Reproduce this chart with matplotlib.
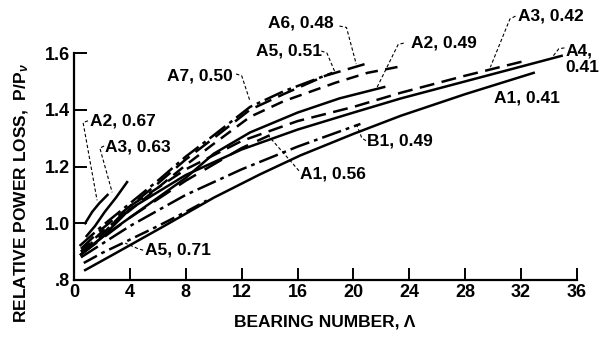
import numpy as np
import matplotlib
matplotlib.use("Agg")
import matplotlib.pyplot as plt

plt.rcParams['font.family'] = ['Liberation Sans', 'DejaVu Sans']
plt.rcParams['font.weight'] = 'bold'
plt.rcParams['mathtext.fontset'] = 'custom'
plt.rcParams['mathtext.rm'] = 'Liberation Sans:bold'
plt.rcParams['mathtext.it'] = 'Liberation Sans:italic:bold'

# curves: bearing number vs relative power loss
a7_050_x = [0.4, 2, 4, 6, 8, 10, 12.6, 15, 18.5]
a7_050_y = [0.92, 0.99, 1.07, 1.15, 1.235, 1.31, 1.41, 1.465, 1.53]
a6_048_x = [0.5, 2, 4, 6, 8, 10, 12.6, 15, 18, 21.1]
a6_048_y = [0.91, 0.98, 1.06, 1.14, 1.225, 1.30, 1.40, 1.455, 1.52, 1.565]
a5_051_x = [0.5, 2, 4, 6, 8, 10, 12.6, 15, 18.7, 21, 23.6]
a5_051_y = [0.90, 0.97, 1.045, 1.125, 1.205, 1.28, 1.375, 1.43, 1.495, 1.53, 1.555]
a2_049_x = [0.5, 2, 4, 6, 8, 10, 12.6, 16, 19, 22.2]
a2_049_y = [0.89, 0.95, 1.02, 1.09, 1.16, 1.245, 1.32, 1.39, 1.44, 1.48]

a3_042_x = [0.5, 2, 4, 8, 12, 16, 20, 23.4, 28, 32.1]
a3_042_y = [0.90, 0.96, 1.06, 1.19, 1.29, 1.36, 1.41, 1.46, 1.52, 1.57]
a4_041_x = [0.5, 2, 4, 8, 12, 16, 20, 23.4, 28, 34.9]
a4_041_y = [0.89, 0.95, 1.05, 1.17, 1.26, 1.33, 1.39, 1.44, 1.50, 1.59]
a1_041_x = [0.8, 3, 6.3, 10, 13.3, 16.2, 20, 23.4, 28, 32.9]
a1_041_y = [0.835, 0.895, 0.986, 1.09, 1.172, 1.239, 1.315, 1.379, 1.455, 1.53]
b1_049_x = [0.5, 4, 8, 12, 16, 20.5]
b1_049_y = [0.88, 0.99, 1.10, 1.19, 1.27, 1.35]
a1_056_x = [0.5, 4, 8, 12, 14]
a1_056_y = [0.89, 1.02, 1.15, 1.265, 1.31]
a5_071_x = [0.7, 2, 3.7, 6, 8, 9.5]
a5_071_y = [0.86, 0.895, 0.935, 0.99, 1.04, 1.08]

a2_067_x = [0.8, 1.3, 1.8, 2.4]
a2_067_y = [1.0, 1.04, 1.07, 1.10]
a3_063_x = [0.9, 1.5, 2.2, 3.0, 3.8]
a3_063_y = [0.955, 0.99, 1.04, 1.09, 1.145]

x_ticks = [0, 4, 8, 12, 16, 20, 24, 28, 32, 36]
y_ticks = [0.8, 1.0, 1.2, 1.4, 1.6]
y_tick_labels = ['.8', '1.0', '1.2', '1.4', '1.6']

fig = plt.figure(figsize=(6, 3.4), dpi=100)
ax = fig.add_axes([74 / 600, 60 / 340, 503 / 600, 227 / 340])

lw = 1.8
ax.plot(a7_050_x, a7_050_y, color='k', lw=lw, ls=(0, (8, 2, 1.5, 2)))
ax.plot(a6_048_x, a6_048_y, color='k', lw=lw, ls=(0, (7, 3)))
ax.plot(a5_051_x, a5_051_y, color='k', lw=lw, ls=(0, (5, 3)))
ax.plot(a2_049_x, a2_049_y, color='k', lw=lw)
ax.plot(a3_042_x, a3_042_y, color='k', lw=lw, ls=(0, (6, 3)))
ax.plot(a4_041_x, a4_041_y, color='k', lw=lw)
ax.plot(a1_041_x, a1_041_y, color='k', lw=lw)
ax.plot(b1_049_x, b1_049_y, color='k', lw=lw, ls=(0, (8, 2, 1.5, 2)))
ax.plot(a1_056_x, a1_056_y, color='k', lw=lw, ls=(0, (8, 4)))
ax.plot(a5_071_x, a5_071_y, color='k', lw=lw, ls=(0, (6, 2, 1.5, 2)))
ax.plot(a2_067_x, a2_067_y, color='k', lw=lw)
ax.plot(a3_063_x, a3_063_y, color='k', lw=lw)

# labels with dashed leaders: (text, text x, text y, leader points)
labels = [
    ('A6, 0.48', 13.85, 1.705, [(19.0, 1.695), (19.5, 1.69), (20.2, 1.561)]),
    ('A5, 0.51', 13.0, 1.607, [(17.7, 1.607), (18.1, 1.6), (18.7, 1.53)]),
    ('A7, 0.50', 6.67, 1.519, [(11.6, 1.526), (12.0, 1.52), (12.6, 1.43)]),
    ('A2, 0.49', 24.1, 1.635, [(23.6, 1.635), (23.2, 1.63), (21.7, 1.48)]),
    ('A3, 0.42', 31.8, 1.73, [(31.6, 1.73), (31.2, 1.72), (29.8, 1.55)]),
    ('A4,\n0.41', 35.2, 1.578, [(35.1, 1.618), (34.7, 1.615), (34.3, 1.59)]),
    ('A1, 0.41', 30.06, 1.442, None),
    ('B1, 0.49', 21.0, 1.291, [(20.9, 1.291), (20.6, 1.3), (20.2, 1.351)]),
    ('A1, 0.56', 16.2, 1.175, [(16.1, 1.185), (13.9, 1.309)]),
    ('A2, 0.67', 1.15, 1.361, [(1.0, 1.361), (0.65, 1.355), (1.65, 1.081)]),
    ('A3, 0.63', 2.22, 1.267, [(2.15, 1.272), (1.85, 1.265), (2.73, 1.109)]),
    ('A5, 0.71', 5.09, 0.905, [(4.95, 0.905), (4.6, 0.91), (3.66, 0.93)]),
]
for txt, tx, ty, pts in labels:
    ax.text(tx, ty, txt, fontsize=12.5, fontweight='bold', ha='left', va='center',
            clip_on=False, linespacing=1.15)
    if pts is not None:
        lx = [p[0] for p in pts]
        ly = [p[1] for p in pts]
        ax.plot(lx, ly, color='k', lw=0.8, ls=(0, (3, 2)), clip_on=False)

ax.set_xlim(0, 36)
ax.set_ylim(0.8, 1.6)
ax.set_xticks(x_ticks)
ax.set_yticks(y_ticks)
ax.set_yticklabels(y_tick_labels)
ax.tick_params(direction='in', length=9, width=1.4, labelsize=13, pad=3)
for s in ['top', 'right']:
    ax.spines[s].set_visible(False)
for s in ['left', 'bottom']:
    ax.spines[s].set_linewidth(1.6)
for lab in ax.get_xticklabels() + ax.get_yticklabels():
    lab.set_fontweight('bold')

fig.text(325 / 600, 1 - 322 / 340, 'BEARING NUMBER, \u039b', ha='center', va='center',
         fontsize=12.5, fontweight='bold')
fig.text(22 / 600, 1 - 193 / 340, r'RELATIVE POWER LOSS,  P/P$_\nu$', ha='center',
         va='center', rotation=90, fontsize=12.5, fontweight='bold')

fig.savefig('out.png', dpi=100)
